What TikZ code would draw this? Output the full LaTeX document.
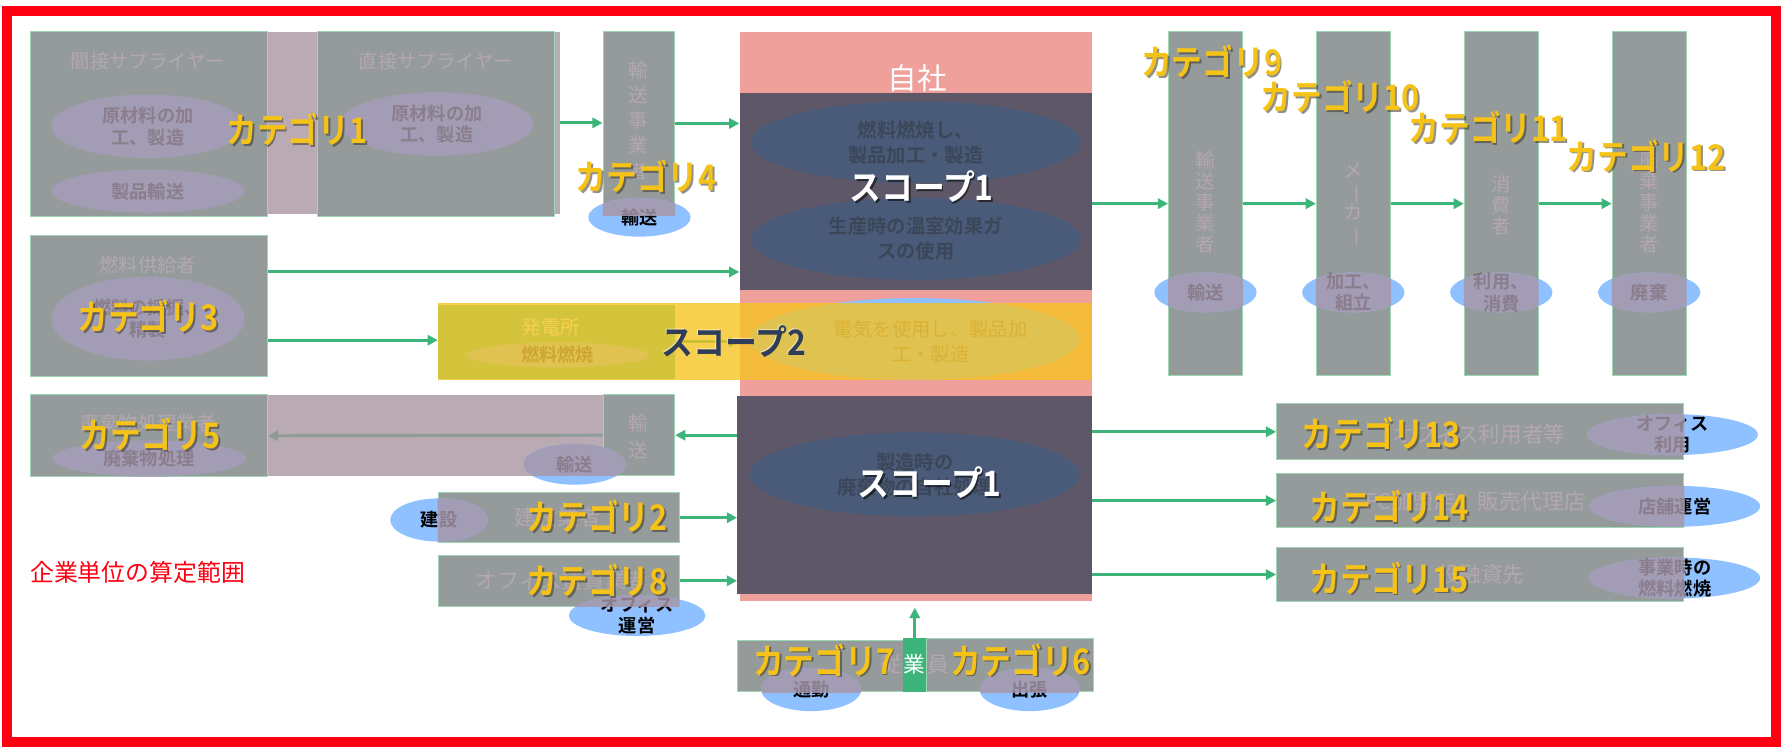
\documentclass[tikz,border=0pt]{standalone}
\usepackage{fontspec}
\setmainfont{Noto Sans CJK JP}[BoldFont={Noto Sans CJK JP Bold}]
\usetikzlibrary{arrows.meta,shapes.geometric,fit,calc}
\newcommand\fsz[1]{\fontsize{#1}{#1}\selectfont}
\definecolor{boxgray}{HTML}{949B9A}
\definecolor{band}{HTML}{B9AAB4}
\definecolor{titlec}{HTML}{B5A7AF}
\definecolor{lav}{HTML}{A39CB5}
\definecolor{lavtext}{HTML}{8A7E8C}
\definecolor{lblue}{HTML}{8FC0FF}
\definecolor{arrowg}{HTML}{3DB47A}
\definecolor{grayarrow}{HTML}{8E9C96}
\definecolor{selfpink}{HTML}{F0A09A}
\definecolor{scopedark}{HTML}{5E5768}
\definecolor{darkell}{HTML}{4A5B7A}
\definecolor{darkelltext}{HTML}{3B4658}
\definecolor{electext}{HTML}{7E7480}
\definecolor{ppgreen}{HTML}{5BC8A3}
\definecolor{pptext}{HTML}{3A3F70}
\definecolor{s2yellow}{HTML}{F6C31F}
\definecolor{catyellow}{HTML}{F5C218}
\definecolor{catshadow}{HTML}{3A3528}
\definecolor{redb}{HTML}{FF0012}
\definecolor{s2text}{HTML}{2F3D58}
\definecolor{edgegreen}{HTML}{9ED6B4}
\tikzset{
  box/.style={fill=boxgray, draw=edgegreen, line width=0.8pt, inner sep=0pt},
  bandbox/.style={fill=band, inner sep=0pt},
  plain/.style={inner sep=0pt},
  ttl/.style={text=titlec, font=\fsz{17}, inner sep=0pt, align=center},
  ttlb/.style={text=titlec, font=\fsz{19}, inner sep=0pt, align=center},
  vtxt/.style={text=titlec, font=\fontsize{17}{18.5}\selectfont, inner sep=0pt, align=center},
  lavell/.style={ellipse, fill=lav, inner sep=0pt},
  blueell/.style={ellipse, fill=lblue, inner sep=0pt},
  darkellipse/.style={ellipse, fill=darkell, inner sep=0pt},
  lavtxt/.style={text=lavtext, font=\bfseries\fontsize{16}{19}\selectfont, inner sep=0pt, align=center},
  bluetxt/.style={text=black, font=\bfseries\fontsize{16}{19}\selectfont, inner sep=0pt, align=center},
  dtxt/.style={text=darkelltext, font=\bfseries\fontsize{17}{22}\selectfont, inner sep=0pt, align=center},
  arr/.style={draw=arrowg, line width=2.6pt, -{Triangle[length=9pt,width=9pt]}},
  grayarr/.style={draw=grayarrow, line width=2.6pt, -{Triangle[length=9pt,width=9pt]}},
  cat/.style={text=catyellow, font=\bfseries\fsz{27}, inner sep=0pt},
  catsh/.style={text=catshadow, opacity=0.55, font=\bfseries\fsz{27}, inner sep=0pt},
  scw/.style={text=white, font=\bfseries\fsz{28}, inner sep=0pt},
  scsh/.style={text=black, opacity=0.55, font=\bfseries\fsz{28}, inner sep=0pt},
}
\newcommand\duo[6]{%
  \node[blueell, minimum width=#3, minimum height=#4] (#1) at (#2) {};
  \node[bluetxt] (#1t) at (#1) {#5};
  \begin{scope}
    \clip (#6.south west) rectangle (#6.north east);
    \node[lavell, minimum width=#3, minimum height=#4] at (#2) {};
    \node[lavtxt] at (#2) {#5};
  \end{scope}}
\newcommand\catlab[3]{%
  \node[catsh] at ($(#2)+(1.6,1.6)$) {\scalebox{1}[1.15]{#3}};
  \node[cat] (#1) at (#2) {\scalebox{1}[1.15]{#3}};}
\begin{document}
\begin{tikzpicture}[x=1pt,y=-1pt]
\useasboundingbox (0,0) rectangle (1568,659);

% ---------- own company (自社)
\node[fill=selfpink, plain, fit={(650,28)(960,528)}] (self) {};
\node[text=white, font=\fsz{26}, inner sep=0pt] (selft) at (806,69) {自社};
\node[fill=scopedark, plain, fit={(650,82)(960,255)}] (s1u) {};
\node[fill=scopedark, plain, fit={(648,348)(960,522)}] (s1l) {};
\node[darkellipse, minimum width=290, minimum height=72] (eu1) at (805,125) {};
\node[dtxt] (eu1t) at (eu1) {燃料燃焼し、\\製品加工・製造};
\node[darkellipse, minimum width=290, minimum height=72] (eu2) at (805,210) {};
\node[dtxt] (eu2t) at (eu2) {生産時の温室効果ガ\\スの使用};
\node[darkellipse, minimum width=290, minimum height=74] (el1) at (804,417) {};
\node[dtxt] (el1t) at (el1) {製造時の\\廃棄物の自社処理};

% ---------- scope 2 band
\node[blueell, minimum width=290, minimum height=72] (eel) at (804,298) {};
\node[text=electext, font=\fontsize{17}{22}\selectfont, align=center, inner sep=0pt] (eelt) at (818,300) {電気を使用し、製品加\\工・製造};
\node[fill=ppgreen, plain, fit={(385,268)(593,333)}] (pp) {};
\node[text=white, font=\fsz{17}, inner sep=0pt] (ppt) at (484,288) {発電所};
\node[blueell, minimum width=160, minimum height=22] (epp) at (490,312) {};
\node[text=pptext, font=\bfseries\fsz{16}, inner sep=0pt] (eppt) at (epp) {燃料燃焼};
\draw[arr] (pp.east) -- (pp.east -| self.west);
\node[fill=s2yellow, fill opacity=0.78, plain, fit={(385,266)(960,334)}] (s2) {};

% ---------- category 1 suppliers
\node[bandbox, fit={(235,28)(492,188)}] (band1) {};
\node[box, fit={(27,28)(235,190)}] (ind) {};
\node[box, fit={(279,28)(487,190)}] (dir) {};
\node[ttl] (indt) at (130,54) {間接サプライヤー};
\node[ttl] (dirt) at (383,54) {直接サプライヤー};
\node[lavell, minimum width=170, minimum height=56] (e1a) at (130,111) {};
\node[lavtxt] (e1at) at (e1a) {原材料の加\\工、製造};
\node[lavell, minimum width=170, minimum height=38] (e1b) at (130,168) {};
\node[lavtxt] (e1bt) at (e1b) {製品輸送};
\node[lavell, minimum width=170, minimum height=56] (e1c) at (384,109) {};
\node[lavtxt] (e1ct) at (e1c) {原材料の加\\工、製造};

% ---------- category 4 transport
\node[box, fit={(530,28)(593,189)}] (tr4) {};
\node[vtxt, font=\fontsize{17}{22}\selectfont] (tr4t) at (561,106) {輸\\送\\事\\業\\者};
\duo{etr4}{562,191}{90}{34}{輸送}{tr4}

% ---------- category 3 fuel
\node[box, fit={(27,207)(235,331)}] (fuel) {};
\node[ttl] (fuelt) at (130,233) {燃料供給者};
\node[lavell, minimum width=170, minimum height=74] (efuel) at (130,280) {};
\node[lavtxt] (efuelt) at (efuel) {燃料の採掘、\\精製};

% ---------- category 5 waste
\node[bandbox, fit={(235,347)(593,418)}] (band5) {};
\node[box, fit={(27,347)(235,419)}] (waste) {};
\node[box, fit={(530,347)(593,418)}] (tr5) {};
\node[ttl] (wastet) at (130,372) {廃棄物処理業者};
\node[lavell, minimum width=170, minimum height=32] (ewaste) at (131,403) {};
\node[lavtxt] (ewastet) at (ewaste) {廃棄物処理};
\node[vtxt, font=\fontsize{17}{24}\selectfont] (tr5t) at (561,384) {輸\\送};
\draw[grayarr] (tr5.west) -- (waste.east);
\duo{etr5}{505,408}{90}{36}{輸送}{band5}

% ---------- category 2 / 8
\node[box, fit={(385,433)(597,477)}] (cons) {};
\node[ttlb] (const) at (490,455) {建設業者};
\duo{econs}{386,457}{86}{38}{建設}{cons}
\node[box, fit={(385,488)(597,533)}] (office) {};
\node[ttlb] (officet) at (494,510) {オフィス賃貸業者};
\duo{eoff}{560,541}{120}{36}{オフィス\\運営}{office}

% ---------- employees
\node[box, fit={(648,563)(794,608)}] (empl) {};
\node[box, fit={(814,561)(961,608)}] (empr) {};
\node[fill=arrowg, plain, fit={(794,561)(814,608)}] (empg) {};
\node[ttlb] (emp1) at (783,584) {従};
\node[text=white, font=\fsz{19}, inner sep=0pt] (emp2) at (804,584) {業};
\node[ttlb] (emp3) at (825,584) {員};
\duo{etsu}{713,606}{88}{38}{通勤}{empl}
\duo{esyu}{905,606}{88}{38}{出張}{empr}

% ---------- downstream vertical boxes
\node[box, fit={(1027,28)(1092,330)}] (v1) {};
\node[box, fit={(1157,28)(1222,330)}] (v2) {};
\node[box, fit={(1287,28)(1352,330)}] (v3) {};
\node[box, fit={(1417,28)(1482,330)}] (v4) {};
\node[vtxt] (v1t) at (1059.5,178) {輸\\送\\事\\業\\者};
\node[vtxt] (v2t) at (1189.5,180) {メ\\\rotatebox[origin=c]{-90}{ー}\\カ\\\rotatebox[origin=c]{-90}{ー}};
\node[vtxt] (v3t) at (1319.5,180) {消\\費\\者};
\node[vtxt] (v4t) at (1449.5,178) {廃\\棄\\事\\業\\者};
\duo{ev1}{1059.5,257}{90}{35}{輸送}{v1}
\duo{ev2}{1189.5,257}{90}{35}{加工、\\組立}{v2}
\duo{ev3}{1319.5,257}{90}{35}{利用、\\消費}{v3}
\duo{ev4}{1449.5,257}{90}{35}{廃棄}{v4}

% ---------- downstream horizontal boxes
\node[box, fit={(1122,355)(1480,404)}] (b13) {};
\node[ttlb] (b13t) at (1300,382) {オフィス利用者等};
\duo{e13}{1470,382}{150}{36}{オフィス\\利用}{b13}
\node[box, fit={(1122,416)(1480,464)}] (b14) {};
\node[ttlb] (b14t) at (1297,441) {FC加盟店、販売代理店};
\duo{e14}{1472,445}{150}{36}{店舗運営}{b14}
\node[box, fit={(1122,481)(1480,529)}] (b15) {};
\node[ttlb] (b15t) at (1302,505) {投融資先};
\duo{e15}{1472,508}{150}{36}{事業時の\\燃料燃焼}{b15}

% ---------- connectors
\draw[arr] (band1.east) -- (band1.east -| tr4.west);
\draw[arr] (tr4.east) -- (tr4.east -| self.west);
\draw[arr] ([yshift=30pt]fuel.east) -- ([yshift=30pt]fuel.east -| self.west);
\draw[arr] ([yshift=-30pt]fuel.east) -- ([yshift=-30pt]fuel.east -| pp.west);
\draw[arr] (tr5.east -| s1l.west) -- (tr5.east);
\draw[arr] (cons.east) -- (cons.east -| s1l.west);
\draw[arr] (office.east) -- (office.east -| s1l.west);
\draw[arr, shorten >=6pt] (empg.north) -- (empg.north |- self.south);
\draw[arr] (v1.west -| self.east) -- (v1.west);
\draw[arr] (v1.east) -- (v2.west);
\draw[arr] (v2.east) -- (v3.west);
\draw[arr] (v3.east) -- (v4.west);
\draw[arr] (b13.west -| self.east) -- (b13.west);
\draw[arr] (b14.west -| self.east) -- (b14.west);
\draw[arr] (b15.west -| self.east) -- (b15.west);

% ---------- scope labels
\node[scsh] at (811.5,165.5) {\scalebox{1}[1.1]{スコープ1}};
\node[scw] (sc1u) at (810,164) {\scalebox{1}[1.1]{スコープ1}};
\node[scsh] at (818.5,425.5) {\scalebox{1}[1.1]{スコープ1}};
\node[scw] (sc1l) at (817,424) {\scalebox{1}[1.1]{スコープ1}};
\node[text=white, opacity=0.5, font=\bfseries\fsz{28}, inner sep=0pt] at (644,299) {\scalebox{1}[1.1]{スコープ2}};
\node[text=s2text, font=\bfseries\fsz{28}, inner sep=0pt] (sc2) at (645,300) {\scalebox{1}[1.1]{スコープ2}};

% ---------- category labels
\catlab{c1}{261,114}{カテゴリ1}
\catlab{c4}{568,155}{カテゴリ4}
\catlab{c3}{130,278}{カテゴリ3}
\catlab{c5}{132,382}{カテゴリ5}
\catlab{c2}{525,454}{カテゴリ2}
\catlab{c8}{525,510}{カテゴリ8}
\catlab{c7}{724,580}{カテゴリ7}
\catlab{c6}{897,580}{カテゴリ6}
\catlab{c9}{1065,54}{カテゴリ9}
\catlab{c10}{1178,85}{カテゴリ10}
\catlab{c11}{1308,112}{カテゴリ11}
\catlab{c12}{1447,137}{カテゴリ12}
\catlab{c13}{1214,381}{カテゴリ13}
\catlab{c14}{1221,445}{カテゴリ14}
\catlab{c15}{1221,508}{カテゴリ15}

% ---------- frame and scope caption
\node[text=redb, font=\fsz{21}, inner sep=0pt] (scopecap) at (121,503) {企業単位の算定範囲};
\node[draw=redb, line width=9pt, plain, fit={(6,10)(1561,652)}] (frame) {};
\end{tikzpicture}
\end{document}
